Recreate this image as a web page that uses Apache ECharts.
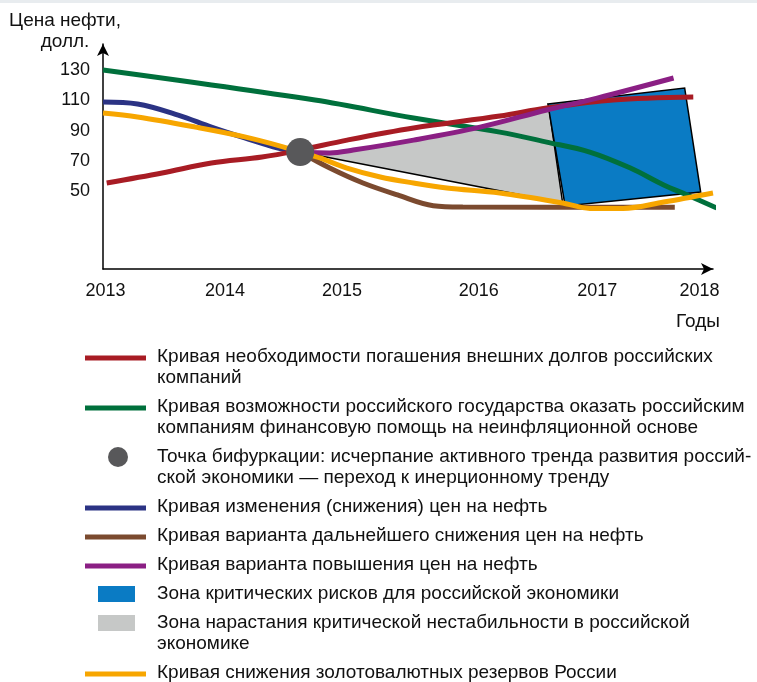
<!DOCTYPE html>
<html lang="ru">
<head>
    <meta charset="UTF-8">
    <title>Цена нефти</title>
    <style>
        body { margin: 0; background: #fff; }
        #main { width: 757px; height: 682px; }
    </style>
</head>
<body>
<div id="main"></div>
<script src="https://cdn.jsdelivr.net/npm/echarts@6.0.0/dist/echarts.min.js"></script>
<script type="text/javascript">
    // подписи осей
    var years = ['2013', '2014', '2015', '2016', '2017', '2018'];
    var yearPos = [2013.02, 2013.99, 2014.94, 2016.05, 2017.01, 2017.84];
    var priceTicks = [50, 70, 90, 110, 130];

    // кривые [год, цена]
    var debtCurve = [[2013.03, 55.4], [2013.48, 62.0], [2013.88, 68.6], [2014.29, 72.6], [2014.60, 77.2],
        [2014.98, 83.8], [2015.52, 91.8], [2016.22, 99.7], [2016.60, 105.0], [2017.14, 110.3], [2017.79, 112.3]];
    var stateCurve = [[2013.0, 130.2], [2014.72, 110.3], [2015.52, 98.4], [2016.22, 89.1], [2016.60, 82.5],
        [2016.95, 75.9], [2017.28, 65.3], [2017.55, 54.1], [2017.74, 47.5], [2017.98, 38.9]];
    var oilCurve = [[2013.0, 109.0], [2013.28, 107.7], [2013.61, 100.4], [2013.88, 92.4], [2014.15, 85.2],
        [2014.42, 78.5], [2014.60, 75.9]];
    var reservesCurve = [[2013.0, 101.7], [2013.28, 99.1], [2013.75, 92.4], [2014.15, 85.9], [2014.50, 78.5],
        [2014.60, 75.9], [2014.76, 72.0], [2014.98, 65.3], [2015.25, 59.4], [2015.52, 55.4], [2015.79, 52.1],
        [2016.22, 48.8], [2016.73, 42.2], [2016.95, 38.6], [2017.22, 38.6], [2017.55, 42.8], [2017.95, 48.8]];
    var lowerOilCurve = [[2014.60, 75.9], [2014.84, 65.3], [2015.11, 55.4], [2015.39, 47.5], [2015.68, 40.4],
        [2015.92, 39.5], [2017.64, 39.3]];
    var higherOilCurve = [[2014.60, 75.9], [2014.84, 75.3], [2015.03, 77.2], [2015.52, 83.8], [2016.06, 92.4],
        [2016.60, 103.7], [2017.01, 111.6], [2017.63, 124.9]];
    var bifurcation = [[2014.60, 75.9]];

    // зоны (вершины многоугольников)
    var grayZone = [[2014.60, 75.9], [2014.84, 75.3], [2015.03, 77.2], [2015.52, 83.8], [2016.06, 92.4],
        [2016.62, 104.3], [2016.73, 42.2]];
    var riskZone = [[2016.61, 107.7], [2017.72, 118.3], [2017.85, 49.4], [2016.75, 40.2]];

    var legendLabels = [
        'Кривая необходимости погашения внешних долгов российских\nкомпаний',
        'Кривая возможности российского государства оказать российским\nкомпаниям финансовую помощь на неинфляционной основе',
        'Точка бифуркации: исчерпание активного тренда развития россий-\nской экономики — переход к инерционному тренду',
        'Кривая изменения (снижения) цен на нефть',
        'Кривая варианта дальнейшего снижения цен на нефть',
        'Кривая варианта повышения цен на нефть',
        'Зона критических рисков для российской экономики',
        'Зона нарастания критической нестабильности в российской\nэкономике',
        'Кривая снижения золотовалютных резервов России'
    ];

    var RED = '#a81c24', GREEN = '#00703c', NAVY = '#2b3384', ORANGE = '#f7a600',
        PURPLE = '#8b1f84', BROWN = '#7b4a2f', DOT = '#58585a', BLUE = '#0a7bc4', GRAY = '#c6c8c7';
    var FONT = '"Liberation Sans", Arial, sans-serif';

    var myChart = echarts.init(document.getElementById('main'));

    function zone(points, fill) {
        return function (params, api) {
            return {
                type: 'polygon',
                shape: { points: points.map(function (p) { return api.coord(p); }) },
                style: { fill: fill, stroke: '#000', lineWidth: 1.5 }
            };
        };
    }

    function curve(name, data, color, z) {
        return {
            name: name, type: 'line', data: data, smooth: 0.35, showSymbol: false, clip: false, z: z,
            lineStyle: { color: color, width: 5, cap: 'butt' }, silent: true
        };
    }

    // легенда рисуется вручную
    var legendKinds = [
        { kind: 'line', color: RED }, { kind: 'line', color: GREEN }, { kind: 'dot', color: DOT },
        { kind: 'line', color: NAVY }, { kind: 'line', color: BROWN }, { kind: 'line', color: PURPLE },
        { kind: 'box', color: BLUE }, { kind: 'box', color: GRAY }, { kind: 'line', color: ORANGE }
    ];
    var graphics = [{ type: 'rect', shape: { x: 0, y: 0, width: 757, height: 3 }, style: { fill: '#e8ecef' } }];
    var ly = 357;
    legendLabels.forEach(function (label, i) {
        var k = legendKinds[i];
        if (k.kind === 'line') {
            graphics.push({ type: 'line', shape: { x1: 85, y1: ly + 1, x2: 146, y2: ly + 1 }, style: { stroke: k.color, lineWidth: 5 } });
        } else if (k.kind === 'dot') {
            graphics.push({ type: 'circle', shape: { cx: 118, cy: ly, r: 10 }, style: { fill: k.color } });
        } else {
            graphics.push({ type: 'rect', shape: { x: 98, y: ly - 8, width: 37, height: 16 }, style: { fill: k.color } });
        }
        graphics.push({
            type: 'text', x: 157, y: ly - 10.5,
            style: { text: label, fill: '#111', font: '19px ' + FONT, lineHeight: 21, verticalAlign: 'top' }
        });
        ly += label.split('\n').length * 21 + 8;
    });
    graphics.push({ type: 'text', x: 65, y: 10, style: { text: 'Цена нефти,\nдолл.', fill: '#111', font: '19px ' + FONT, lineHeight: 21, align: 'center', verticalAlign: 'top' } });
    graphics.push({ type: 'text', x: 720, y: 312, style: { text: 'Годы', fill: '#111', font: '19px ' + FONT, align: 'right', verticalAlign: 'top' } });

    var axisLine = { show: true, onZero: false, symbol: ['none', 'arrow'], symbolSize: [9, 12], lineStyle: { color: '#000', width: 1.5 } };

    var option = {
        animation: false,
        backgroundColor: '#fff',
        grid: { left: 103, top: 44, width: 610, height: 225 },
        xAxis: {
            type: 'value', min: 2013, max: 2017.95,
            axisLine: axisLine, axisTick: { show: false }, splitLine: { show: false },
            axisLabel: {
                customValues: yearPos, margin: 13, color: '#111', fontSize: 18, fontFamily: FONT,
                formatter: function (v) {
                    var best = 0;
                    yearPos.forEach(function (p, i) { if (Math.abs(p - v) < Math.abs(yearPos[best] - v)) best = i; });
                    return years[best];
                }
            }
        },
        yAxis: {
            type: 'value', min: -1.5, max: 147.4,
            axisLine: axisLine, axisTick: { show: false }, splitLine: { show: false },
            axisLabel: { customValues: priceTicks, margin: 13, color: '#111', fontSize: 18, fontFamily: FONT }
        },
        graphic: graphics,
        series: [
            { type: 'custom', renderItem: zone(grayZone, GRAY), data: [grayZone[0]], z: 1, silent: true, clip: false },
            { type: 'custom', renderItem: zone(riskZone, BLUE), data: [riskZone[0]], z: 2, silent: true, clip: false },
            curve('снижение', lowerOilCurve, BROWN, 3),
            curve('нефть', oilCurve, NAVY, 4),
            curve('государство', stateCurve, GREEN, 5),
            curve('долги', debtCurve, RED, 6),
            curve('повышение', higherOilCurve, PURPLE, 7),
            curve('резервы', reservesCurve, ORANGE, 8),
            {
                type: 'scatter', data: bifurcation, symbolSize: 28, z: 10, silent: true,
                itemStyle: { color: DOT, opacity: 1 }
            }
        ]
    };

    myChart.setOption(option);
</script>
</body>
</html>
